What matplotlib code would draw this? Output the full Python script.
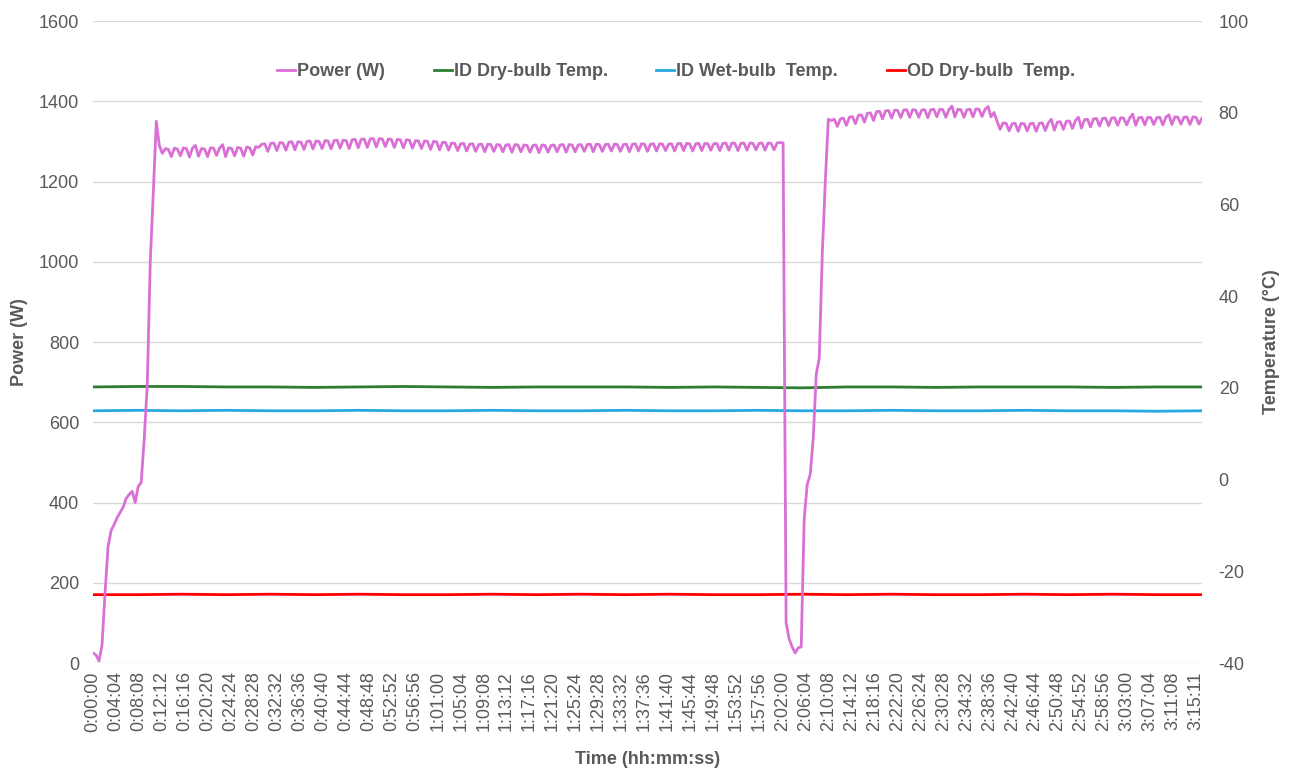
import numpy as np
import matplotlib
matplotlib.use("Agg")
import matplotlib.pyplot as plt

plt.rcParams['font.family'] = ['Liberation Sans', 'DejaVu Sans']
plt.rcParams['axes.unicode_minus'] = False

# power readings, one every 32 s from 0:00:00
sample_step = 32
power_w = [
    25, 20, 5, 45, 175, 290, 330, 345, 362, 375, 388, 410, 420, 428, 400, 440, 450, 560, 690, 1000, 1170, 1350, 1290, 1270,
    1282, 1280, 1262, 1283, 1281, 1264, 1284, 1282, 1261, 1283, 1290, 1263, 1282, 1281, 1262, 1284, 1283, 1265,
    1283, 1292, 1262, 1284, 1282, 1264, 1285, 1283, 1263, 1286, 1284, 1266, 1287, 1285,
    1293, 1294, 1275, 1295, 1296, 1277, 1297, 1296, 1278, 1298, 1299, 1279, 1299, 1298, 1280, 1300, 1301, 1281,
    1301, 1300, 1282, 1302, 1301, 1281, 1302, 1303, 1283, 1303, 1302, 1282, 1304, 1305, 1284, 1305, 1306, 1285,
    1306, 1307, 1286, 1307, 1306, 1287, 1306, 1305, 1285, 1305, 1304, 1284, 1304, 1303, 1283, 1302, 1301, 1282,
    1301, 1300, 1280, 1300, 1299, 1279, 1298, 1297, 1278,
    1296, 1295, 1277, 1294, 1295, 1276, 1293, 1294, 1275, 1292, 1293, 1274, 1293, 1292, 1275, 1292, 1291, 1274,
    1291, 1292, 1273, 1292, 1291, 1274, 1291, 1290, 1273, 1290, 1291, 1272, 1291, 1290, 1273, 1290, 1291, 1274,
    1291, 1292, 1273, 1292, 1291, 1274, 1291, 1292, 1275, 1292, 1293, 1274, 1293, 1292, 1275, 1292, 1293, 1276,
    1293, 1292, 1275, 1292, 1293, 1274, 1293, 1294, 1276, 1294, 1293, 1275, 1293, 1294, 1276, 1294, 1293, 1277,
    1293, 1294, 1276, 1294, 1295, 1277, 1295, 1294, 1276, 1294, 1295, 1277, 1295, 1294, 1278, 1294, 1295, 1277,
    1295, 1296, 1278, 1296, 1295, 1277, 1295, 1296, 1278, 1296, 1295, 1279, 1295, 1296, 1278, 1296, 1295, 1279,
    1296, 1297, 1296,
    100, 60, 40, 25, 38, 40, 360, 445, 470, 560, 720, 760, 1020, 1200, 1355,
    1352, 1355, 1337, 1356, 1358, 1340, 1360, 1362, 1344, 1365, 1366, 1348, 1370, 1371, 1352, 1374, 1375, 1356,
    1376, 1377, 1358, 1378, 1377, 1359, 1378, 1379, 1360, 1379, 1378, 1360, 1378, 1379, 1359, 1379, 1380, 1361,
    1380, 1379, 1360, 1379, 1388, 1361, 1380, 1379, 1360, 1379, 1380, 1361, 1381, 1380, 1362, 1380, 1387, 1361,
    1372, 1350, 1330, 1346, 1345, 1326, 1344, 1345, 1325, 1345, 1344, 1326, 1344, 1345, 1325, 1345, 1346, 1327,
    1346, 1355, 1328, 1348, 1349, 1330, 1350, 1351, 1332, 1352, 1360, 1333, 1354, 1355, 1336, 1356, 1357, 1338,
    1357, 1358, 1339, 1358, 1359, 1340, 1359, 1358, 1341, 1358, 1368, 1340, 1359, 1360, 1341, 1360, 1359, 1342,
    1359, 1360, 1341, 1360, 1366, 1342, 1361, 1360, 1343, 1360, 1361, 1342, 1361, 1360, 1343, 1358,
]

# temperatures (deg C), evenly spread over the whole run
id_dry_c = [20.2, 20.3, 20.3, 20.2, 20.2, 20.1, 20.2, 20.3, 20.2, 20.1, 20.2, 20.2, 20.2,
            20.1, 20.2, 20.1, 20.0, 20.2, 20.2, 20.1, 20.2, 20.2, 20.2, 20.1, 20.2, 20.2]
id_wet_c = [15.0, 15.1, 15.0, 15.1, 15.0, 15.0, 15.1, 15.0, 15.0, 15.1, 15.0, 15.0, 15.1,
            15.0, 15.0, 15.1, 15.0, 15.0, 15.1, 15.0, 15.0, 15.1, 15.0, 15.0, 14.9, 15.0]
od_dry_c = [-25.1, -25.1, -25.0, -25.1, -25.0, -25.1, -25.0, -25.1, -25.1, -25.0, -25.1, -25.0, -25.1,
            -25.0, -25.1, -25.1, -25.0, -25.1, -25.0, -25.1, -25.1, -25.0, -25.1, -25.0, -25.1, -25.1]

time_labels = [
    "0:00:00", "0:04:04", "0:08:08", "0:12:12", "0:16:16", "0:20:20", "0:24:24", "0:28:28", "0:32:32",
    "0:36:36", "0:40:40", "0:44:44", "0:48:48", "0:52:52", "0:56:56", "1:01:00", "1:05:04", "1:09:08",
    "1:13:12", "1:17:16", "1:21:20", "1:25:24", "1:29:28", "1:33:32", "1:37:36", "1:41:40", "1:45:44",
    "1:49:48", "1:53:52", "1:57:56", "2:02:00", "2:06:04", "2:10:08", "2:14:12", "2:18:16", "2:22:20",
    "2:26:24", "2:30:28", "2:34:32", "2:38:36", "2:42:40", "2:46:44", "2:50:48", "2:54:52", "2:58:56",
    "3:03:00", "3:07:04", "3:11:08", "3:15:11",
]


def to_seconds(s):
  h, m, sec = s.split(":")
  return int(h)*3600 + int(m)*60 + int(sec)


gray = '#595959'
t_power = np.arange(len(power_w))*sample_step
t_end = t_power[-1]
t_temp = np.linspace(0, t_end, len(id_dry_c))

fig = plt.figure(figsize=(12.92, 7.71), dpi=100)
ax = fig.add_axes([93/1292, 1 - 663/771, (1202 - 93)/1292, (663 - 21)/771])
ax2 = ax.twinx()

l2, = ax2.plot(t_temp, id_dry_c, color='#2E7D32', lw=2, label='ID Dry-bulb Temp.')
l3, = ax2.plot(t_temp, id_wet_c, color='#29A9E1', lw=2, label='ID Wet-bulb  Temp.')
l4, = ax2.plot(t_temp, od_dry_c, color='#FF0000', lw=2, label='OD Dry-bulb  Temp.')
l1, = ax.plot(t_power, power_w, color='#DA6FD6', lw=2, label='Power (W)')

ax.set_zorder(ax2.get_zorder() + 1)
ax.patch.set_visible(False)

ax.set_xlim(0, t_end)
ax.set_ylim(0, 1600)
ax.set_yticks(range(0, 1601, 200))
ax2.set_ylim(-40, 100)
ax2.set_yticks(range(-40, 101, 20))

ax.set_xticks([to_seconds(s) for s in time_labels])
ax.set_xticklabels(time_labels, rotation=90)
ax.grid(axis='y', color='#D9D9D9', lw=1)
ax.set_axisbelow(True)

for a in (ax, ax2):
  for sp in a.spines.values():
    sp.set_visible(False)
  a.tick_params(length=0, labelsize=13, colors=gray)
ax.tick_params(axis='y', pad=10)
ax.tick_params(axis='x', pad=6)
ax2.tick_params(axis='y', pad=12)

ax.set_xlabel('Time (hh:mm:ss)', fontsize=13, fontweight='bold', color=gray, labelpad=14)
ax.set_ylabel('Power (W)', fontsize=13, fontweight='bold', color=gray, labelpad=8)
ax2.set_ylabel('Temperature (°C)', fontsize=13, fontweight='bold', color=gray, labelpad=10)

fig.legend(handles=[l1, l2, l3, l4], loc='center', bbox_to_anchor=(676/1292, 1 - 72/771), ncol=4,
           frameon=False, handlelength=1.0, handletextpad=0.1, columnspacing=2.7,
           prop={'size': 13, 'weight': 'bold'}, labelcolor=gray)

fig.savefig('out.png', dpi=100)
